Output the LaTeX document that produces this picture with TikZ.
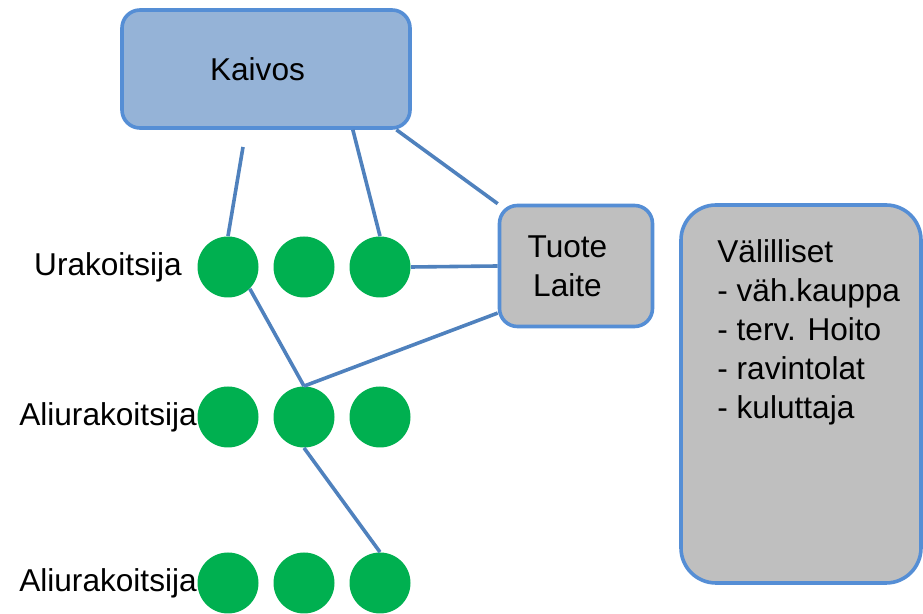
\documentclass[tikz,border=0pt]{standalone}
\usepackage{fontspec}
\setmainfont{Liberation Sans}
\usetikzlibrary{positioning}
\definecolor{kaivosfill}{HTML}{95B3D7}
\definecolor{edgeblue}{HTML}{558ED5}
\definecolor{lineblue}{HTML}{4F81BD}
\definecolor{dotgreen}{HTML}{00B050}
\definecolor{boxgray}{HTML}{BFBFBF}
\newcommand{\padright}{\rule{8.5pt}{0pt}}
\tikzset{
  dot/.style={circle,fill=dotgreen,minimum size=30.5pt,inner sep=0pt},
  link/.style={draw=lineblue,line width=1.8pt},
  roundbox/.style={draw=edgeblue,line width=1.8pt,rounded corners=9pt,inner sep=0pt},
  rowlabel/.style={inner sep=0pt,anchor=east}
}
\begin{document}
\begin{tikzpicture}[x=0.5pt,y=-0.5pt,font=\fontsize{15.8}{19.5}\selectfont]
    \useasboundingbox (0,0) rectangle (923,614);
    % boxes
    \node[roundbox,fill=kaivosfill,minimum width=144pt,minimum height=59pt] (kaivos) at (266,69) {Kaivos\padright};
    \node[roundbox,fill=boxgray,minimum width=76.5pt,minimum height=60.5pt,align=center] (tuote) at (576,266) {Tuote\padright\\Laite\padright};
    \node[roundbox,fill=boxgray,rounded corners=17.5pt,minimum width=120pt,minimum height=189pt] (valit) at (801,394) {};
    \node[inner sep=0pt,anchor=north west,align=left] (valitext) at (717,239) {V\"alilliset\\- v\"ah.kauppa\\- terv. Hoito\\- ravintolat\\- kuluttaja};
    % dots
    \foreach \i/\x in {1/228,2/304,3/380} {
        \node[dot] (u\i) at (\x,267) {};
        \node[dot] (a\i) at (\x,417) {};
        \node[dot] (b\i) at (\x,583) {};
    }
    \node[rowlabel,left=7.5pt of u1] (ura) {Urakoitsija};
    \node[rowlabel,left=0pt of a1] (ali1) {Aliurakoitsija};
    \node[rowlabel,left=0pt of b1] (ali2) {Aliurakoitsija};
    % links
    \coordinate (kfree) at (243,147);
    \draw[link] (kfree) -- (u1.north);
    \draw[link] (kaivos.-35) -- (u3.north);
    \draw[link] (kaivos.-25) -- (tuote.north west);
    \draw[link] (u3.east) -- (tuote.west);
    \draw[link] (tuote.211) -- (a2.north);
    \draw[link] (u1.-45) -- (a2.north);
    \draw[link] (a2.south) -- (b3.north);
\end{tikzpicture}
\end{document}
